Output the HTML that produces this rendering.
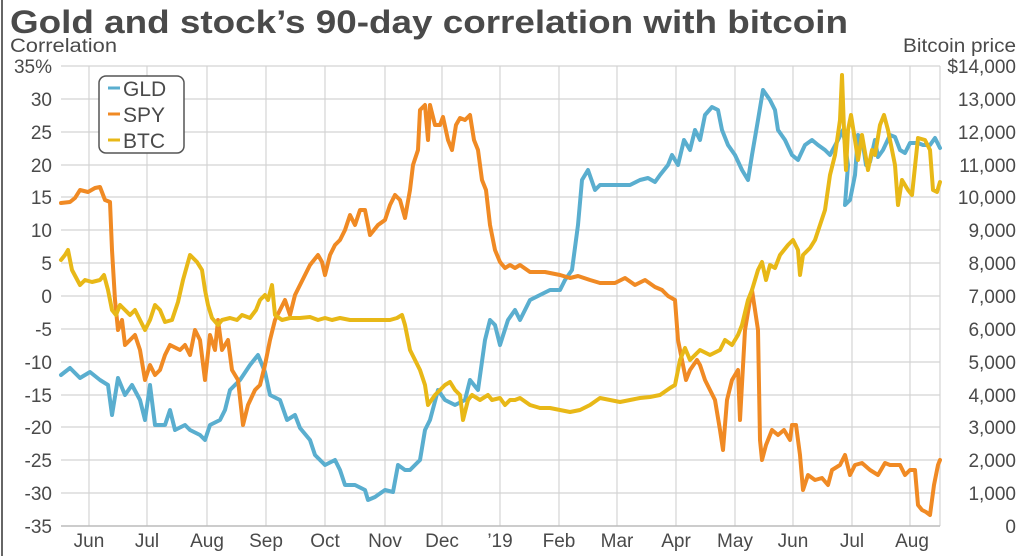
<!DOCTYPE html>
<html><head><meta charset="utf-8"><style>
html,body{margin:0;padding:0;background:#fff;}
svg{display:block;font-family:"Liberation Sans",sans-serif;}
</style></head><body>
<svg width="1024" height="556" viewBox="0 0 1024 556">
<rect x="0" y="0" width="1024" height="556" fill="#fff"/>
<line x1="2" y1="0" x2="2" y2="556" stroke="#666" stroke-width="2"/>
<text x="10" y="33" font-size="32" font-weight="bold" fill="#4a4a4a" textLength="838" lengthAdjust="spacingAndGlyphs">Gold and stock’s 90-day correlation with bitcoin</text>
<text x="10" y="52" font-size="19" fill="#4a4a4a" textLength="107" lengthAdjust="spacingAndGlyphs">Correlation</text>
<text x="1016" y="52" font-size="19" fill="#4a4a4a" text-anchor="end" textLength="113" lengthAdjust="spacingAndGlyphs">Bitcoin price</text>
<g stroke="#d4d4d4" stroke-width="1.2">
<line x1="61" y1="66" x2="940" y2="66"/><line x1="61" y1="99" x2="940" y2="99"/><line x1="61" y1="132" x2="940" y2="132"/><line x1="61" y1="165" x2="940" y2="165"/><line x1="61" y1="197" x2="940" y2="197"/><line x1="61" y1="230" x2="940" y2="230"/><line x1="61" y1="263" x2="940" y2="263"/><line x1="61" y1="296" x2="940" y2="296"/><line x1="61" y1="329" x2="940" y2="329"/><line x1="61" y1="362" x2="940" y2="362"/><line x1="61" y1="395" x2="940" y2="395"/><line x1="61" y1="427" x2="940" y2="427"/><line x1="61" y1="460" x2="940" y2="460"/><line x1="61" y1="493" x2="940" y2="493"/>
<line x1="89" y1="66" x2="89" y2="526"/><line x1="147" y1="66" x2="147" y2="526"/><line x1="207" y1="66" x2="207" y2="526"/><line x1="266" y1="66" x2="266" y2="526"/><line x1="325" y1="66" x2="325" y2="526"/><line x1="385" y1="66" x2="385" y2="526"/><line x1="442" y1="66" x2="442" y2="526"/><line x1="500" y1="66" x2="500" y2="526"/><line x1="559" y1="66" x2="559" y2="526"/><line x1="617" y1="66" x2="617" y2="526"/><line x1="676" y1="66" x2="676" y2="526"/><line x1="735" y1="66" x2="735" y2="526"/><line x1="793" y1="66" x2="793" y2="526"/><line x1="852" y1="66" x2="852" y2="526"/><line x1="910" y1="66" x2="910" y2="526"/><line x1="940" y1="66" x2="940" y2="526"/>
</g>
<line x1="61" y1="526" x2="940" y2="526" stroke="#bbb" stroke-width="1.5"/>
<g font-size="19" fill="#4a4a4a" text-anchor="end">
<text x="52" y="73">35%</text><text x="52" y="106">30</text><text x="52" y="139">25</text><text x="52" y="172">20</text><text x="52" y="204">15</text><text x="52" y="237">10</text><text x="52" y="270">5</text><text x="52" y="303">0</text><text x="52" y="336">-5</text><text x="52" y="369">-10</text><text x="52" y="402">-15</text><text x="52" y="434">-20</text><text x="52" y="467">-25</text><text x="52" y="500">-30</text><text x="52" y="533">-35</text>
<text x="1016" y="73">$14,000</text><text x="1016" y="106">13,000</text><text x="1016" y="139">12,000</text><text x="1016" y="172">11,000</text><text x="1016" y="204">10,000</text><text x="1016" y="237">9,000</text><text x="1016" y="270">8,000</text><text x="1016" y="303">7,000</text><text x="1016" y="336">6,000</text><text x="1016" y="369">5,000</text><text x="1016" y="402">4,000</text><text x="1016" y="434">3,000</text><text x="1016" y="467">2,000</text><text x="1016" y="500">1,000</text><text x="1016" y="533">0</text>
</g>
<g font-size="19" fill="#4a4a4a" text-anchor="middle">
<text x="89" y="547">Jun</text><text x="147" y="547">Jul</text><text x="207" y="547">Aug</text><text x="266" y="547">Sep</text><text x="325" y="547">Oct</text><text x="385" y="547">Nov</text><text x="442" y="547">Dec</text><text x="500" y="547">’19</text><text x="559" y="547">Feb</text><text x="617" y="547">Mar</text><text x="676" y="547">Apr</text><text x="735" y="547">May</text><text x="793" y="547">Jun</text><text x="852" y="547">Jul</text><text x="912" y="547">Aug</text>
</g>
<g fill="none" stroke-width="4" stroke-linejoin="round" stroke-linecap="round">
<polyline stroke="#5aaecf" points="61,375 70,368 80,378 90,372 100,380 108,385 112,415 118,378 125,395 132,385 140,400 145,420 150,385 155,425 165,425 170,410 175,430 185,425 190,430 200,435 205,440 210,425 220,420 225,410 230,390 240,380 250,365 258,355 265,372 270,395 280,400 287,420 295,415 300,428 310,440 315,455 325,465 335,460 340,470 345,485 355,485 365,490 368,500 375,497 385,490 393,492 398,465 405,470 410,470 420,460 425,430 430,420 438,390 445,400 455,405 465,400 470,380 478,390 485,340 490,320 495,325 500,345 508,320 515,310 520,320 530,300 540,295 550,290 560,290 565,280 572,270 578,225 582,180 588,170 595,190 600,185 610,185 620,185 630,185 640,180 648,178 655,182 660,175 668,165 672,155 678,165 684,140 690,150 695,130 700,140 705,115 712,107 718,110 722,130 728,145 735,155 742,170 748,180 752,155 758,120 763,90 770,100 775,110 778,130 785,140 792,155 798,160 805,145 812,140 818,145 825,150 830,155 838,140 843,130 848,165 845,205 850,200 855,175 858,135 862,138 866,165 870,162 875,140 878,157 883,150 890,135 895,137 900,150 905,153 910,143 918,143 923,145 930,145 935,138 940,148"/>
<polyline stroke="#f08a24" points="61,203 70,202 75,198 80,190 88,192 95,188 100,187 105,200 110,202 112,250 115,300 118,330 122,320 125,345 130,340 135,335 140,350 145,380 150,365 155,375 160,370 165,355 170,345 180,350 185,345 190,355 195,330 200,340 205,380 210,335 215,350 218,320 222,350 228,340 232,370 238,380 243,425 248,405 255,390 260,385 265,365 270,340 275,320 280,310 285,300 290,315 295,295 300,285 305,275 310,265 318,255 322,262 325,275 330,255 335,245 340,240 345,230 350,215 355,225 360,210 365,210 370,235 378,225 385,220 390,205 395,195 400,200 405,218 410,190 413,165 418,150 420,110 425,105 428,140 430,105 435,125 440,125 443,117 448,140 452,150 456,125 460,118 465,120 470,115 474,140 478,150 482,180 486,190 490,225 495,250 500,262 505,268 510,265 515,268 520,265 530,272 545,272 560,275 570,278 578,276 590,280 600,283 615,283 625,278 635,285 645,280 655,287 662,290 668,296 675,300 678,340 682,360 686,380 690,370 697,360 700,365 705,380 710,390 715,400 720,430 723,450 727,400 732,380 738,370 740,420 745,330 750,300 752,290 758,330 760,440 762,460 766,445 772,430 778,435 784,430 790,440 792,425 796,425 800,455 803,490 808,475 815,480 822,478 828,485 832,470 840,465 845,455 850,475 855,465 862,463 870,470 878,475 885,463 890,465 900,465 905,475 910,470 915,470 918,505 922,510 926,512 930,515 934,485 938,465 940,460"/>
<polyline stroke="#e8b817" points="61,260 65,255 68,250 72,270 80,285 85,280 92,282 100,280 104,275 108,290 112,310 116,315 120,305 125,310 130,315 135,310 140,320 145,330 150,320 155,305 160,310 165,322 172,320 178,302 183,280 190,255 197,262 202,270 205,290 208,305 212,318 218,325 222,320 230,318 237,320 242,315 250,318 256,310 260,300 265,295 268,300 272,285 275,315 282,320 290,318 300,318 310,317 318,320 325,318 332,320 340,318 350,320 360,320 372,320 380,320 390,320 397,318 402,315 405,325 410,350 415,360 420,370 425,385 428,405 435,395 440,390 445,385 450,382 455,390 460,395 463,420 468,400 472,395 480,400 488,395 492,400 500,398 505,405 510,400 515,400 520,398 530,405 540,408 550,408 560,410 570,412 580,410 590,405 600,398 610,400 620,402 630,400 640,398 650,397 660,395 670,388 675,385 680,360 685,348 690,360 695,355 700,350 710,355 720,350 725,340 732,345 738,335 742,325 748,300 752,290 758,270 762,262 766,280 770,265 775,268 780,255 788,245 793,240 798,250 800,275 803,255 810,248 815,240 820,225 825,210 830,175 835,155 840,120 842,75 844,130 846,170 848,130 851,115 855,140 858,160 862,135 868,170 872,150 875,155 880,125 884,115 888,130 892,150 895,165 898,205 902,180 908,190 912,195 918,138 925,140 930,150 933,190 937,192 940,182"/>
</g>
<rect x="99" y="76" width="85" height="77" rx="7" fill="#fff" stroke="#555" stroke-width="1.5"/>
<g font-size="21" fill="#4a4a4a">
<line x1="108" y1="88" x2="120" y2="88" stroke="#5aaecf" stroke-width="3"/><text x="123" y="96">GLD</text>
<line x1="108" y1="114" x2="120" y2="114" stroke="#f08a24" stroke-width="3"/><text x="123" y="122">SPY</text>
<line x1="108" y1="140" x2="120" y2="140" stroke="#e8b817" stroke-width="3"/><text x="123" y="148">BTC</text>
</g>
</svg>
</body></html>
